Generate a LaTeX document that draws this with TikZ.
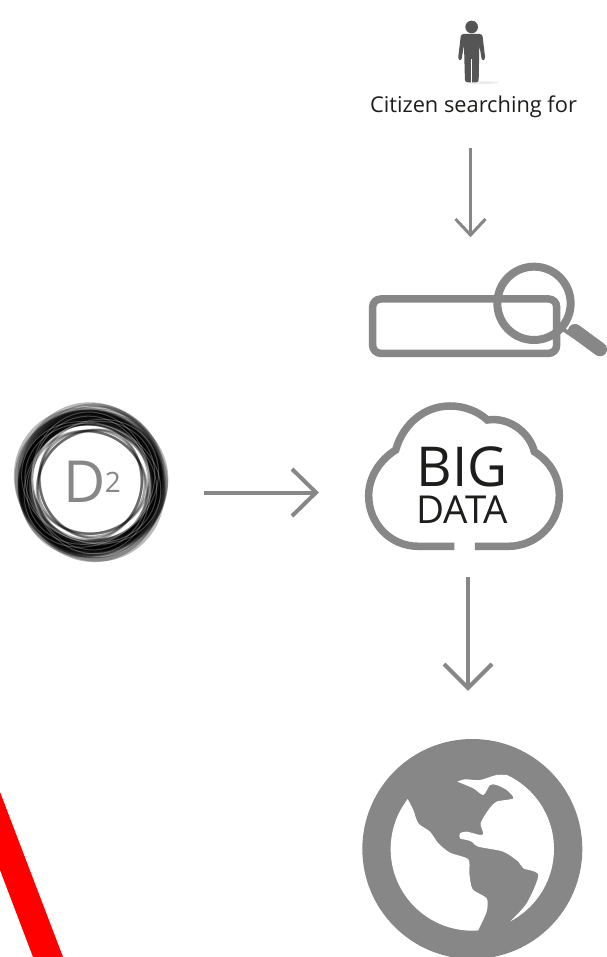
\documentclass[tikz,border=0pt]{standalone}
\usepackage{fontspec}
\setmainfont{Open Sans}
\definecolor{icongrey}{HTML}{878787}
\definecolor{textdark}{HTML}{1D1D1B}
\definecolor{persongrey}{HTML}{555555}
\tikzset{
  flow/.style={draw=icongrey,line width=4pt},
  flowthin/.style={draw=icongrey,line width=3pt},
  iconline/.style={draw=icongrey,line width=7.5pt},
  label/.style={inner sep=0pt,text=textdark,anchor=base}
}
\begin{document}
\begin{tikzpicture}[x=1pt,y=-1pt]
\useasboundingbox (0,0) rectangle (606,957);
\fill[white] (0,0) rectangle (606,957);
% red band
\fill[red] (0,792) -- (63,957) -- (33,957) -- (0,870) -- cycle;
% person
\begin{scope}[shift={(350,0)},x=.3333pt,y=-.3333pt]
\fill[black!8] (400,248) ellipse (45 and 4);
\fill[persongrey] (365,81) circle (19);
\fill[persongrey,rounded corners=2.5pt] (333,102) -- (397,102) -- (406,178) -- (396,183) -- (388,135) -- (386,247) -- (345,247) -- (342,135) -- (334,183) -- (324,178) -- cycle;
\draw[white,line width=.8pt] (365,178) -- (365,248);
\end{scope}
\node[label] (citizen) at (473.5,113) {\fontsize{21.8}{25}\selectfont Citizen searching for};
% search bar
\begin{scope}[shift={(350,250)},x=.3333pt,y=-.3333pt]
\draw[iconline,rounded corners=8pt] (68,147) rectangle (620,310);
\draw[draw=icongrey,line width=8pt] (552,160) circle (110);
\draw[draw=icongrey,line width=4pt] (630,232) -- (670,258);
\draw[draw=icongrey,line width=14pt,line cap=round] (675,243) -- (750,298);
\end{scope}
\coordinate (searchtop) at (470.5,148);
\coordinate (searchin) at (470.5,235);
\draw[flowthin] (searchtop) -- (searchin);
\draw[flowthin] (searchin) ++(-15,-16) -- (searchin) -- ++(15,-16);
% cloud
\begin{scope}[shift={(350,250)},x=.3333pt,y=-.3333pt]
\draw[iconline] (313,889) -- (205,889) .. controls (120,889) and (56,820) .. (56,737) .. controls (56,680) and (90,630) .. (137,600) .. controls (160,520) and (225,468) .. (300,468) .. controls (345,468) and (385,485) .. (412,510) .. controls (480,500) and (540,550) .. (553,605) .. controls (600,635) and (628,680) .. (628,737) .. controls (628,820) and (560,889) .. (475,889) -- (375,889);
\end{scope}
\node[label,align=center] (bigdata) at (462,523.5) {\fontsize{55}{60}\selectfont BIG\\[8pt]\fontsize{38.5}{40}\selectfont DATA};
% D2 ring
\begin{scope}[shift={(91,483)}]
\foreach \i in {0,...,35}{
  \pgfmathsetmacro{\ang}{\i*47}
  \pgfmathsetmacro{\rad}{62+mod(\i*7,11)}
  \pgfmathsetmacro{\off}{1+mod(\i*3,4)}
  \pgfmathsetmacro{\wid}{2.5+mod(\i*5,4)*1.1}
  \draw[black,opacity=.27,line width=\wid pt,rotate=\ang] (\off,0) ellipse ({\rad+3} and {\rad-3});
}
\foreach \i in {0,...,9}{
  \pgfmathsetmacro{\ang}{\i*73+20}
  \draw[black,opacity=.2,line width=2.4pt,rotate=\ang] (3,0) ellipse (57 and 51);
}
\foreach \i in {0,...,5}{
  \pgfmathsetmacro{\ang}{\i*61+35}
  \draw[white,opacity=.25,line width=1pt,rotate=\ang] (2,0) ellipse (69 and 59);
}
\end{scope}
\node[inner sep=0pt,text=icongrey,anchor=base] (dee) at (85,502) {\fontsize{58}{60}\selectfont D};
\node[inner sep=0pt,text=icongrey,anchor=base] (two) at (113,492) {\fontsize{28}{30}\selectfont 2};
\coordinate (ringout) at (204,492.5);
\coordinate (cloudin) at (316,492.5);
\draw[flow] (ringout) -- (cloudin);
\draw[flow] (cloudin) ++(-24,-23.5) -- (cloudin) -- ++(-24,23.5);
\coordinate (cloudout) at (468,577);
\coordinate (globein) at (468,688);
\draw[flow] (cloudout) -- (globein);
\draw[flow] (globein) ++(-24,-24) -- (globein) -- ++(24,-24);
% globe
\begin{scope}[shift={(350,730)},x=.3333pt,y=-.3333pt]
\fill[icongrey] (367,357) circle (330);
\begin{scope}
\clip (367,357) circle (245);
\fill[white] plot[smooth,tension=.45] coordinates {(172,205) (190,240) (205,280) (240,305) (265,340) (300,368) (355,388) (358,430) (368,478) (410,505) (410,545) (385,600)} -- (385,650) -- (50,650) -- (50,180) -- (172,180) -- cycle;
\fill[white] plot[smooth,tension=.45] coordinates {(322,155) (345,148) (390,150) (440,135) (480,135)} -- (500,100) -- (700,100) -- (700,650) -- (480,650) -- plot[smooth,tension=.45] coordinates {(480,575) (530,520) (565,435) (520,415) (505,395) (460,365) (385,350) (365,335) (350,330) (330,325) (330,310) (350,305) (390,315) (400,310) (392,280) (415,240) (440,215) (490,205) (470,180) (440,165) (420,165) (400,195) (370,175) (322,155)} -- cycle;
\end{scope}
\end{scope}
\end{tikzpicture}
\end{document}
